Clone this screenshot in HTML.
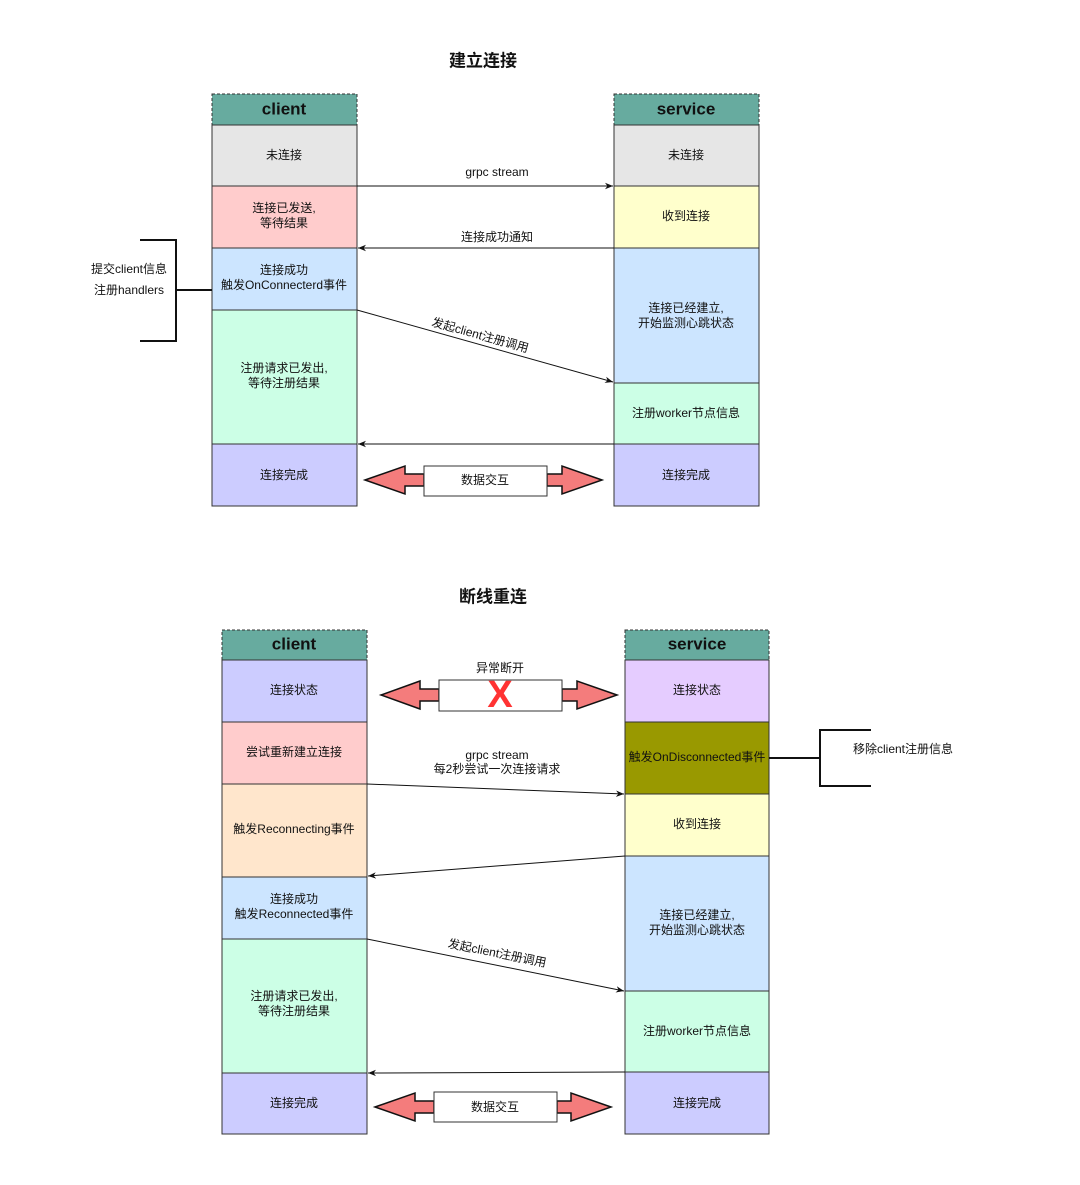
<!DOCTYPE html>
<html><head><meta charset="utf-8"><style>
html,body{margin:0;padding:0;background:#fff}
svg{display:block}
text{font-family:"Liberation Sans","Noto Sans CJK SC",sans-serif;font-size:12px;fill:#111;text-anchor:middle;dominant-baseline:middle}
.t{font-size:17px;font-weight:bold}
.h{font-size:17px;font-weight:bold}
.b{stroke:#333;stroke-width:1}
.ln{stroke:#111;stroke-width:1;fill:none}
.br{stroke:#111;stroke-width:2;fill:none}
.da{fill:#f47c7c;stroke:#111;stroke-width:1.5}
</style></head><body>
<svg width="1080" height="1185" viewBox="0 0 1080 1185" xmlns="http://www.w3.org/2000/svg">
<defs>
<marker id="ar" viewBox="0 0 10 10" refX="10" refY="5" markerWidth="8" markerHeight="8" orient="auto-start-reverse"><path d="M0,1 L10,5 L0,9 L3,5 Z" fill="#111"/></marker>
</defs>

<!-- TOP -->
<text x="483" y="62" class="t">建立连接</text>
<!-- client -->
<rect x="212" y="94" width="145" height="31" fill="#67ab9f" stroke="#333" stroke-dasharray="3,2"/>
<text x="284" y="110" class="h">client</text>
<rect x="212" y="125" width="145" height="61" fill="#e6e6e6" class="b"/>
<text x="284" y="156">未连接</text>
<rect x="212" y="186" width="145" height="62" fill="#ffcccc" class="b"/>
<text x="284" y="209">连接已发送,</text><text x="284" y="224">等待结果</text>
<rect x="212" y="248" width="145" height="62" fill="#cce5ff" class="b"/>
<text x="284" y="271">连接成功</text><text x="284" y="286">触发OnConnecterd事件</text>
<rect x="212" y="310" width="145" height="134" fill="#ccffe6" class="b"/>
<text x="284" y="369">注册请求已发出,</text><text x="284" y="384">等待注册结果</text>
<rect x="212" y="444" width="145" height="62" fill="#ccccff" class="b"/>
<text x="284" y="476">连接完成</text>
<!-- service -->
<rect x="614" y="94" width="145" height="31" fill="#67ab9f" stroke="#333" stroke-dasharray="3,2"/>
<text x="686" y="110" class="h">service</text>
<rect x="614" y="125" width="145" height="61" fill="#e6e6e6" class="b"/>
<text x="686" y="156">未连接</text>
<rect x="614" y="186" width="145" height="62" fill="#ffffcc" class="b"/>
<text x="686" y="217">收到连接</text>
<rect x="614" y="248" width="145" height="135" fill="#cce5ff" class="b"/>
<text x="686" y="309">连接已经建立,</text><text x="686" y="324">开始监测心跳状态</text>
<rect x="614" y="383" width="145" height="61" fill="#ccffe6" class="b"/>
<text x="686" y="414">注册worker节点信息</text>
<rect x="614" y="444" width="145" height="62" fill="#ccccff" class="b"/>
<text x="686" y="476">连接完成</text>
<!-- arrows -->
<line x1="357" y1="186" x2="613" y2="186" class="ln" marker-end="url(#ar)"/>
<text x="497" y="173">grpc stream</text>
<line x1="614" y1="248" x2="358" y2="248" class="ln" marker-end="url(#ar)"/>
<text x="497" y="238">连接成功通知</text>
<line x1="357" y1="310" x2="613" y2="382" class="ln" marker-end="url(#ar)"/>
<text x="480" y="336" transform="rotate(15.6 480 336)">发起client注册调用</text>
<line x1="614" y1="444" x2="358" y2="444" class="ln" marker-end="url(#ar)"/>
<polygon class="da" points="365,480 405,466 405,474 424,474 424,486 405,486 405,494"/>
<polygon class="da" points="602,480 562,466 562,474 547,474 547,486 562,486 562,494"/>
<rect x="424" y="466" width="123" height="30" fill="#fff" stroke="#333"/>
<text x="485" y="481">数据交互</text>
<!-- bracket left -->
<polyline points="140,240 176,240 176,341 140,341" class="br"/>
<line x1="176" y1="290" x2="212" y2="290" class="br"/>
<text x="129" y="270">提交client信息</text>
<text x="129" y="291">注册handlers</text>

<!-- BOTTOM -->
<text x="493" y="598" class="t">断线重连</text>
<rect x="222" y="630" width="145" height="30" fill="#67ab9f" stroke="#333" stroke-dasharray="3,2"/>
<text x="294" y="645" class="h">client</text>
<rect x="222" y="660" width="145" height="62" fill="#ccccff" class="b"/>
<text x="294" y="691">连接状态</text>
<rect x="222" y="722" width="145" height="62" fill="#ffcccc" class="b"/>
<text x="294" y="753">尝试重新建立连接</text>
<rect x="222" y="784" width="145" height="93" fill="#ffe6cc" class="b"/>
<text x="294" y="830">触发Reconnecting事件</text>
<rect x="222" y="877" width="145" height="62" fill="#cce5ff" class="b"/>
<text x="294" y="900">连接成功</text><text x="294" y="915">触发Reconnected事件</text>
<rect x="222" y="939" width="145" height="134" fill="#ccffe6" class="b"/>
<text x="294" y="997">注册请求已发出,</text><text x="294" y="1012">等待注册结果</text>
<rect x="222" y="1073" width="145" height="61" fill="#ccccff" class="b"/>
<text x="294" y="1104">连接完成</text>

<rect x="625" y="630" width="144" height="30" fill="#67ab9f" stroke="#333" stroke-dasharray="3,2"/>
<text x="697" y="645" class="h">service</text>
<rect x="625" y="660" width="144" height="62" fill="#e5ccff" class="b"/>
<text x="697" y="691">连接状态</text>
<rect x="625" y="722" width="144" height="72" fill="#999900" class="b"/>
<text x="697" y="758">触发OnDisconnected事件</text>
<rect x="625" y="794" width="144" height="62" fill="#ffffcc" class="b"/>
<text x="697" y="825">收到连接</text>
<rect x="625" y="856" width="144" height="135" fill="#cce5ff" class="b"/>
<text x="697" y="916">连接已经建立,</text><text x="697" y="931">开始监测心跳状态</text>
<rect x="625" y="991" width="144" height="81" fill="#ccffe6" class="b"/>
<text x="697" y="1032">注册worker节点信息</text>
<rect x="625" y="1072" width="144" height="62" fill="#ccccff" class="b"/>
<text x="697" y="1104">连接完成</text>

<line x1="367" y1="784" x2="624" y2="794" class="ln" marker-end="url(#ar)"/>
<text x="497" y="756">grpc stream</text>
<text x="497" y="770">每2秒尝试一次连接请求</text>
<line x1="625" y1="856" x2="368" y2="876" class="ln" marker-end="url(#ar)"/>
<line x1="367" y1="939" x2="624" y2="991" class="ln" marker-end="url(#ar)"/>
<text x="497" y="954" transform="rotate(11.4 497 954)">发起client注册调用</text>
<line x1="625" y1="1072" x2="368" y2="1073" class="ln" marker-end="url(#ar)"/>

<text x="500" y="669">异常断开</text>
<polygon class="da" points="381,695 420,681 420,689 439,689 439,701 420,701 420,709"/>
<polygon class="da" points="617,695 577,681 577,689 562,689 562,701 577,701 577,709"/>
<rect x="439" y="680" width="123" height="31" fill="#fff" stroke="#333"/>
<text x="500" y="697" style="font-size:38px;font-weight:bold;fill:#ff3333">X</text>

<polygon class="da" points="375,1107 415,1093 415,1101 434,1101 434,1113 415,1113 415,1121"/>
<polygon class="da" points="611,1107 571,1093 571,1101 557,1101 557,1113 571,1113 571,1121"/>
<rect x="434" y="1092" width="123" height="30" fill="#fff" stroke="#333"/>
<text x="495" y="1108">数据交互</text>

<line x1="769" y1="758" x2="820" y2="758" class="br"/>
<polyline points="871,730 820,730 820,786 871,786" class="br"/>
<text x="903" y="750">移除client注册信息</text>
</svg>
</body></html>
